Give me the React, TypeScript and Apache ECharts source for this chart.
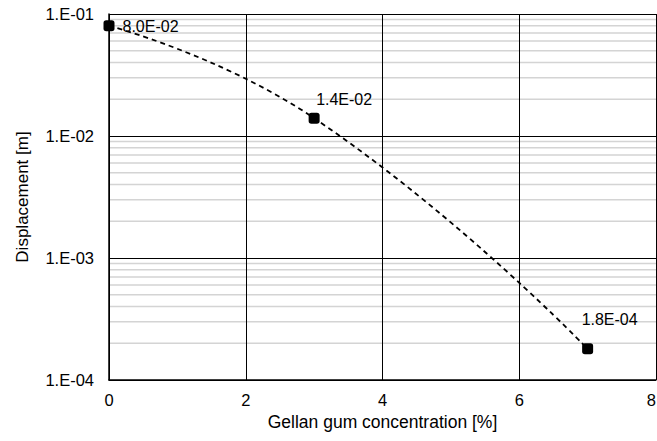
import React, { useEffect, useRef } from "react";
import * as echarts from "echarts";

const concentrations = [0, 3, 7];
const displacements = [0.08, 0.014, 0.00018];
const yTickValues = [1e-4, 1e-3, 1e-2, 1e-1];
const yTickLabels = ["1.E-04", "1.E-03", "1.E-02", "1.E-01"];
const xTicks = [0, 2, 4, 6, 8];
const minorMultipliers = [2, 3, 4, 5, 6, 7, 8, 9];
const xAxisTitle = "Gellan gum concentration [%]";
const yAxisTitle = "Displacement [m]";

const FONT = "'Liberation Sans', Arial, sans-serif";

function fmtExp(v: number): string {
  const s = v.toExponential(1);
  const [m, e] = s.split("e");
  const n = parseInt(e, 10);
  return `${m}E${n < 0 ? "-" : "+"}${String(Math.abs(n)).padStart(2, "0")}`;
}

export default function App() {
  const ref = useRef<HTMLDivElement>(null);
  useEffect(() => {
    if (!ref.current) return;
    const chart = echarts.init(ref.current, undefined, { renderer: "svg" });
    const xMin = xTicks[0];
    const xMax = xTicks[xTicks.length - 1];
    const minorData: any[] = [];
    for (let i = 0; i < yTickValues.length - 1; i++) {
      for (const m of minorMultipliers) {
        const v = yTickValues[i] * m;
        minorData.push([xMin, v], [xMax, v], "-");
      }
    }
    const labelOffsets = [
      [3, 1],
      [-8.5, -19],
      [-16.5, -29],
    ];
    chart.setOption({
      animation: false,
      backgroundColor: "#ffffff",
      textStyle: { fontFamily: FONT },
      grid: {
        left: 109,
        right: 1,
        top: 14,
        bottom: 61,
        containLabel: false,
        outerBoundsMode: "none",
      },
      xAxis: {
        type: "value",
        min: xMin,
        max: xMax,
        interval: 2,
        name: xAxisTitle,
        nameLocation: "middle",
        nameGap: 33,
        nameTextStyle: { fontSize: 17.5, color: "#000", fontFamily: FONT },
        axisLine: { show: true, onZero: false, lineStyle: { color: "#000", width: 1.5 } },
        axisTick: { show: false },
        axisLabel: {
          fontSize: 16.5,
          color: "#000",
          margin: 11,
          fontFamily: FONT,
          alignMaxLabel: "right",
        },
        splitLine: { show: true, lineStyle: { color: "#000", width: 1 } },
      },
      yAxis: {
        type: "log",
        logBase: 10,
        min: yTickValues[0],
        max: yTickValues[yTickValues.length - 1],
        name: yAxisTitle,
        nameLocation: "middle",
        nameGap: 78,
        nameTextStyle: { fontSize: 17, color: "#000", fontFamily: FONT },
        axisLine: { show: true, lineStyle: { color: "#000", width: 1.5 } },
        axisTick: { show: false },
        axisLabel: {
          fontSize: 16.5,
          color: "#000",
          margin: 15,
          fontFamily: FONT,
          formatter: (v: number) => {
            const idx = yTickValues.findIndex((t) => Math.abs(Math.log10(t) - Math.log10(v)) < 1e-6);
            return idx >= 0 ? yTickLabels[idx] : "";
          },
        },
        splitLine: { show: true, lineStyle: { color: "#000", width: 1 } },
        minorTick: { show: false },
        minorSplitLine: { show: false },
      },
      series: [
        {
          type: "line",
          z: -1,
          silent: true,
          symbol: "none",
          connectNulls: false,
          lineStyle: { color: "#d4d4d4", width: 1.5 },
          data: minorData,
        },
        {
          type: "line",
          z: 5,
          smooth: 0.5,
          symbol: "roundRect",
          symbolSize: 11,
          itemStyle: { color: "#000" },
          lineStyle: { color: "#000", width: 1.8, type: [5, 4] },
          data: concentrations.map((c, i) => ({
            value: [c, displacements[i]],
            label: { offset: labelOffsets[i] },
          })),
          label: {
            show: true,
            position: "right",
            distance: 5,
            fontSize: 16,
            color: "#000",
            fontFamily: FONT,
            formatter: (p: any) => fmtExp(p.value[1]),
          },
        },
      ],
    });
    return () => chart.dispose();
  }, []);
  return (
    <div
      ref={ref}
      style={{ position: "fixed", left: 0, top: 0, width: 657, height: 441 }}
    />
  );
}
